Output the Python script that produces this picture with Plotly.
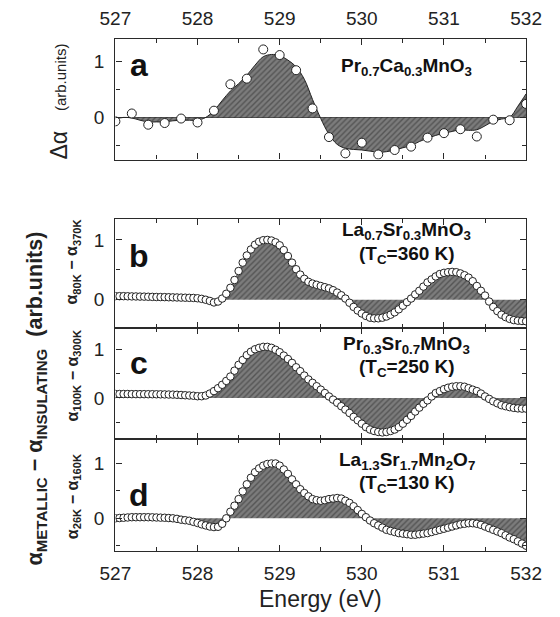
import numpy as np
import plotly.graph_objects as go

# the page body keeps an 8px margin, so the figure is 8px smaller on each axis
OFF = 8
W, H = 560 - OFF, 617 - OFF

# panel a: measured points every 0.2 eV and a smooth guide curve every 0.1 eV
e_a_pts = np.round(np.arange(527.0, 532.001, 0.2), 2)
a_pts = [-0.07, 0.07, -0.13, -0.10, -0.02, -0.09, 0.12, 0.59, 0.69, 1.21, 1.11, 0.84, 0.16,
         -0.35, -0.64, -0.45, -0.66, -0.58, -0.52, -0.36, -0.28, -0.21, -0.34, -0.04, -0.05, 0.24]
e_a_curve = np.round(np.arange(527.0, 532.001, 0.1), 2)
a_curve = [-0.03, 0.0, -0.01, -0.05, -0.08, -0.08, -0.08, -0.06, -0.05, -0.05,
           -0.05, 0.0, 0.12, 0.3, 0.47, 0.6, 0.75, 0.93, 1.08, 1.12,
           1.1, 1.02, 0.9, 0.68, 0.32, -0.02, -0.3, -0.48, -0.55, -0.57,
           -0.58, -0.6, -0.62, -0.61, -0.58, -0.54, -0.5, -0.43, -0.37, -0.32,
           -0.28, -0.25, -0.22, -0.23, -0.22, -0.15, -0.07, -0.03, 0.0, 0.2, 0.42]

# panels b-d: difference spectra every 0.05 eV
e_fine = np.round(np.arange(527.0, 532.001, 0.05), 2)
b_vals = [0.06, 0.06, 0.06, 0.058, 0.056, 0.055, 0.053, 0.052, 0.05, 0.048,
          0.046, 0.045, 0.044, 0.042, 0.04, 0.038, 0.036, 0.034, 0.032, 0.03,
          0.025, 0.015, 0.0, -0.02, -0.045, -0.03, 0.02, 0.1, 0.2, 0.33,
          0.48, 0.62, 0.74, 0.84, 0.92, 0.97, 0.995, 1.0, 0.99, 0.96,
          0.91, 0.83, 0.73, 0.62, 0.51, 0.42, 0.35, 0.3, 0.27, 0.25,
          0.23, 0.21, 0.19, 0.16, 0.12, 0.075, 0.02, -0.05, -0.12, -0.18,
          -0.23, -0.27, -0.3, -0.31, -0.31, -0.3, -0.28, -0.25, -0.21, -0.16,
          -0.1, -0.04, 0.02, 0.09, 0.15, 0.22, 0.29, 0.34, 0.39, 0.43,
          0.45, 0.46, 0.465, 0.46, 0.44, 0.41, 0.37, 0.31, 0.23, 0.15,
          0.07, -0.03, -0.12, -0.19, -0.25, -0.29, -0.32, -0.34, -0.35, -0.355,
          -0.36]
c_vals = [0.08, 0.08, 0.08, 0.08, 0.078, 0.078, 0.077, 0.077, 0.076, 0.076,
          0.075, 0.074, 0.072, 0.07, 0.068, 0.065, 0.06, 0.055, 0.05, 0.045,
          0.035, 0.035, 0.05, 0.09, 0.14, 0.2, 0.27, 0.35, 0.44, 0.56,
          0.68, 0.78, 0.88, 0.95, 1.0, 1.03, 1.05, 1.05, 1.03, 0.99,
          0.94, 0.87, 0.8, 0.72, 0.63, 0.55, 0.46, 0.38, 0.31, 0.24,
          0.17, 0.1, 0.03, -0.035, -0.1, -0.17, -0.24, -0.31, -0.39, -0.46,
          -0.53, -0.6, -0.65, -0.68, -0.7, -0.71, -0.7, -0.68, -0.65, -0.6,
          -0.53, -0.45, -0.37, -0.28, -0.2, -0.12, -0.05, 0.03, 0.1, 0.14,
          0.18, 0.21, 0.23, 0.24, 0.24, 0.23, 0.2, 0.17, 0.14, 0.09,
          0.03, -0.02, -0.07, -0.11, -0.15, -0.17, -0.19, -0.205, -0.215, -0.22,
          -0.22]
d_vals = [0.0, 0.005, 0.01, 0.015, 0.02, 0.02, 0.02, 0.02, 0.02, 0.018,
          0.015, 0.012, 0.01, 0.005, 0.0, -0.01, -0.025, -0.035, -0.045, -0.065,
          -0.085, -0.11, -0.13, -0.15, -0.16, -0.155, -0.1, 0.0, 0.12, 0.23,
          0.35, 0.49, 0.62, 0.74, 0.84, 0.91, 0.96, 0.99, 1.0, 1.0,
          0.96, 0.89, 0.81, 0.71, 0.62, 0.53, 0.46, 0.4, 0.35, 0.33,
          0.32, 0.33, 0.35, 0.36, 0.37, 0.36, 0.32, 0.28, 0.22, 0.15,
          0.08, 0.02, -0.04, -0.09, -0.13, -0.17, -0.21, -0.23, -0.25, -0.27,
          -0.28, -0.29, -0.3, -0.3, -0.29, -0.28, -0.27, -0.25, -0.23, -0.21,
          -0.19, -0.17, -0.15, -0.13, -0.11, -0.1, -0.09, -0.09, -0.1, -0.12,
          -0.15, -0.18, -0.21, -0.24, -0.27, -0.31, -0.35, -0.38, -0.42, -0.46,
          -0.5]

letters = ["a", "b", "c", "d"]
compounds = ["Pr<sub>0.7</sub>Ca<sub>0.3</sub>MnO<sub>3</sub>",
             "La<sub>0.7</sub>Sr<sub>0.3</sub>MnO<sub>3</sub>",
             "Pr<sub>0.3</sub>Sr<sub>0.7</sub>MnO<sub>3</sub>",
             "La<sub>1.3</sub>Sr<sub>1.7</sub>Mn<sub>2</sub>O<sub>7</sub>"]
tc_labels = [None, "(T<sub>C</sub>=360 K)", "(T<sub>C</sub>=250 K)", "(T<sub>C</sub>=130 K)"]
diff_labels = ["α<sub>80K</sub> − α<sub>370K</sub>",
               "α<sub>100K</sub> − α<sub>300K</sub>",
               "α<sub>26K</sub> − α<sub>160K</sub>"]
x_ticks = [527, 528, 529, 530, 531, 532]

FONT = "Liberation Sans, Arial, sans-serif"
INK = "#2a2a2a"
hatch = dict(shape="/", bgcolor="#7c7c7c", fgcolor="#2c2c2c", size=4, solidity=0.35)


def px_x(p):
    return (p - OFF) / W


def px_y(p):
    return 1 - (p - OFF) / H


# panel boxes in page pixels (top, bottom)
boxes = [(33, 155), (215, 325), (325, 437), (437, 550)]
yranges = [[-0.75, 1.40], [-0.47, 1.35], [-0.84, 1.44], [-0.59, 1.45]]
xdom = [px_x(105), px_x(541)]

fig = go.Figure()

# panel a
fig.add_trace(go.Scatter(x=e_a_curve, y=a_curve, mode="lines", line_shape="spline",
                         line=dict(color="#222", width=1), fill="tozeroy",
                         fillpattern=hatch, xaxis="x", yaxis="y", hoverinfo="skip"))
fig.add_trace(go.Scatter(x=e_a_pts, y=a_pts, mode="markers",
                         marker=dict(size=9, color="white", line=dict(color="#222", width=1)),
                         xaxis="x", yaxis="y"))

for k, vals in enumerate([b_vals, c_vals, d_vals], start=2):
    fig.add_trace(go.Scatter(x=e_fine, y=vals, mode="lines", line_shape="spline",
                             line=dict(color="#444", width=0.5), fill="tozeroy",
                             fillpattern=hatch, xaxis=f"x{k}", yaxis=f"y{k}", hoverinfo="skip"))
    fig.add_trace(go.Scatter(x=e_fine, y=vals, mode="markers",
                             marker=dict(size=7.5, color="white", line=dict(color="#222", width=1)),
                             xaxis=f"x{k}", yaxis=f"y{k}"))

axis_common = dict(showline=True, linecolor=INK, linewidth=1.3, mirror="ticks",
                   ticks="inside", ticklen=6, tickwidth=1.2, tickcolor=INK,
                   showgrid=False, zeroline=False,
                   tickfont=dict(family=FONT, size=19, color="#222"))

layout = dict(width=W, height=H, margin=dict(l=0, r=0, t=0, b=0),
              paper_bgcolor="white", plot_bgcolor="white", showlegend=False,
              font=dict(family=FONT, color="#222"))

for i in range(4):
    sx = "" if i == 0 else str(i + 1)
    top, bot = boxes[i]
    xa = dict(axis_common, domain=xdom, range=[527, 532], anchor=f"y{sx}",
              tickvals=x_ticks, minor=dict(dtick=0.5, ticks="inside", ticklen=4, tickcolor=INK),
              showticklabels=(i in (0, 3)), ticklabelstandoff=5)
    if i == 0:
        xa["side"] = "top"
    else:
        xa["matches"] = "x"
    ya = dict(axis_common, domain=[px_y(bot), px_y(top)], range=yranges[i], anchor=f"x{sx}",
              tickvals=[0, 1], minor=dict(tickvals=[-0.5, 0.5], ticks="inside", ticklen=4, tickcolor=INK),
              ticklabelstandoff=6)
    if i == 0:
        ya["zeroline"] = True
        ya["zerolinecolor"] = "#222"
        ya["zerolinewidth"] = 1.3
    layout[f"xaxis{sx}"] = xa
    layout[f"yaxis{sx}"] = ya

fig.update_layout(**layout)

# panel letters and compound names
letter_y = [0.94, 0.73, 0.71, 0.42]
name_y = [0.9, 1.15, 1.09, 1.05]
tc_y = [None, 0.75, 0.61, 0.62]
for i in range(4):
    sx = "" if i == 0 else str(i + 1)
    fig.add_annotation(x=527.29, y=letter_y[i], xref=f"x{sx}", yref=f"y{sx}",
                       text=f"<b>{letters[i]}</b>", showarrow=False,
                       xanchor="center", yanchor="middle",
                       font=dict(family=FONT, size=32, color="#111"))
    fig.add_annotation(x=530.55, y=name_y[i], xref=f"x{sx}", yref=f"y{sx}",
                       text=f"<b>{compounds[i]}</b>", showarrow=False,
                       xanchor="center", yanchor="middle",
                       font=dict(family=FONT, size=19, color="#111"))
    if tc_labels[i]:
        fig.add_annotation(x=530.55, y=tc_y[i], xref=f"x{sx}", yref=f"y{sx}",
                           text=f"<b>{tc_labels[i]}</b>", showarrow=False,
                           xanchor="center", yanchor="middle",
                           font=dict(family=FONT, size=19, color="#111"))

# axis titles
center = dict(xref="paper", yref="paper", showarrow=False, xanchor="center", yanchor="middle")
fig.add_annotation(x=px_x(45), y=px_y(140), textangle=-90, text="Δα",
                   font=dict(family=FONT, size=23, color="#222"), **center)
fig.add_annotation(x=px_x(47), y=px_y(72), textangle=-90, text="(arb.units)",
                   font=dict(family=FONT, size=15, color="#222"), **center)
fig.add_annotation(x=px_x(21), y=px_y(396), textangle=-90,
                   text="<b>α<sub>METALLIC</sub> − α<sub>INSULATING</sub>  (arb.units)</b>",
                   font=dict(family=FONT, size=21.5, color="#222"), **center)
for lab, yc in zip(diff_labels, [258, 373, 495]):
    fig.add_annotation(x=px_x(60), y=px_y(yc), textangle=-90, text=f"<b>{lab}</b>",
                       font=dict(family=FONT, size=16, color="#222"), **center)
fig.add_annotation(x=px_x(323), y=px_y(599), text="Energy (eV)",
                   font=dict(family=FONT, size=23, color="#222"), **center)

fig.write_html("out.html")
